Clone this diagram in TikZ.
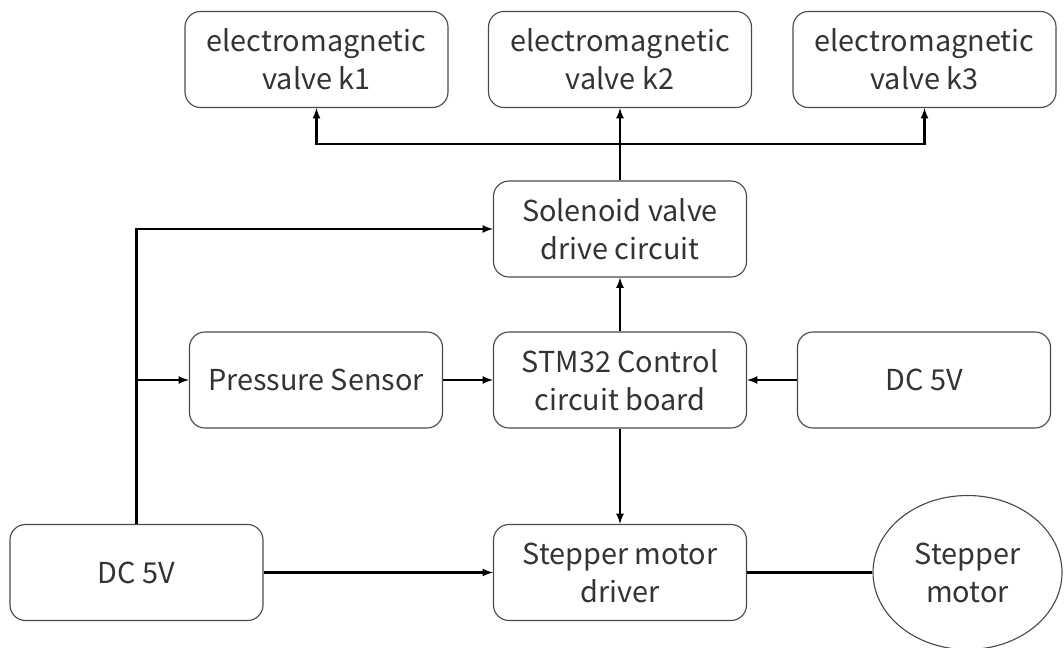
\documentclass[tikz,border=0pt]{standalone}
\usepackage{fontspec}
\setmainfont{Noto Sans CJK SC}
\usepackage{tikz}
\usetikzlibrary{arrows,shapes.geometric}
\usepackage{xcolor}
\definecolor{edgegray}{HTML}{4A4A4A}
\definecolor{textgray}{HTML}{333333}

\begin{document}
\begin{tikzpicture}[x=0.025cm,y=-0.025cm,
	block/.style={draw=edgegray, line width=0.8pt, rounded corners=11pt, align=center,
		inner sep=0pt, minimum width=253*0.025cm, minimum height=96*0.025cm,
		text=textgray, font=\fontsize{20.5}{27}\selectfont},
	wire/.style={line width=1.5pt, black},
	arr/.style={wire, -latex}]
						% Page
						\useasboundingbox (0,0) rectangle (1064,648);
						
						% Valves
						\foreach \i/\x in {1/316.5,2/620,3/924.5}
						\node[block, minimum width=263*0.025cm] (k\i) at (\x,59.5) {electromagnetic\\valve k\i};
						
						% Middle row
						\node[block] (sol) at (620,229) {Solenoid valve\\drive circuit};
						\node[block] (ps) at (316,380) {Pressure Sensor};
						\node[block] (stm) at (620,380) {STM32 Control\\circuit board};
						\node[block] (dcr) at (924,380) {DC 5V};
						
						% Bottom row
						\node[block] (dcl) at (136.5,572.5) {DC 5V};
						\node[block] (drv) at (620,572.5) {Stepper motor\\driver};
						\node[ellipse, draw=edgegray, line width=0.8pt, inner sep=0pt, minimum width=189*0.025cm,
							minimum height=154*0.025cm, align=center, text=textgray,
							font=\fontsize{20.5}{27}\selectfont] (mot) at (967.5,572.5) {Stepper\\motor};
						
						% Valve bus
						\coordinate (bus) at (620,144);
						\draw[arr] (sol.north) -- (k2.south);
						\foreach \i in {1,3}
						\draw[arr] (bus) -| (k\i.south);
						
						% Power lines
						\draw[arr] (dcl.north) |- (sol.west);
						\draw[arr] (dcl.north |- ps.west) -- (ps.west);
						\draw[arr] (dcl.east) -- (drv.west);
						\draw[arr] (dcr.west) -- (stm.east);
						
						% Control lines
						\draw[arr] (ps.east) -- (stm.west);
						\draw[arr] (stm.north) -- (sol.south);
						\draw[arr] (stm.south) -- (drv.north);
						\draw[wire] (drv.east) -- (mot.west);
					\end{tikzpicture}
\end{document}
